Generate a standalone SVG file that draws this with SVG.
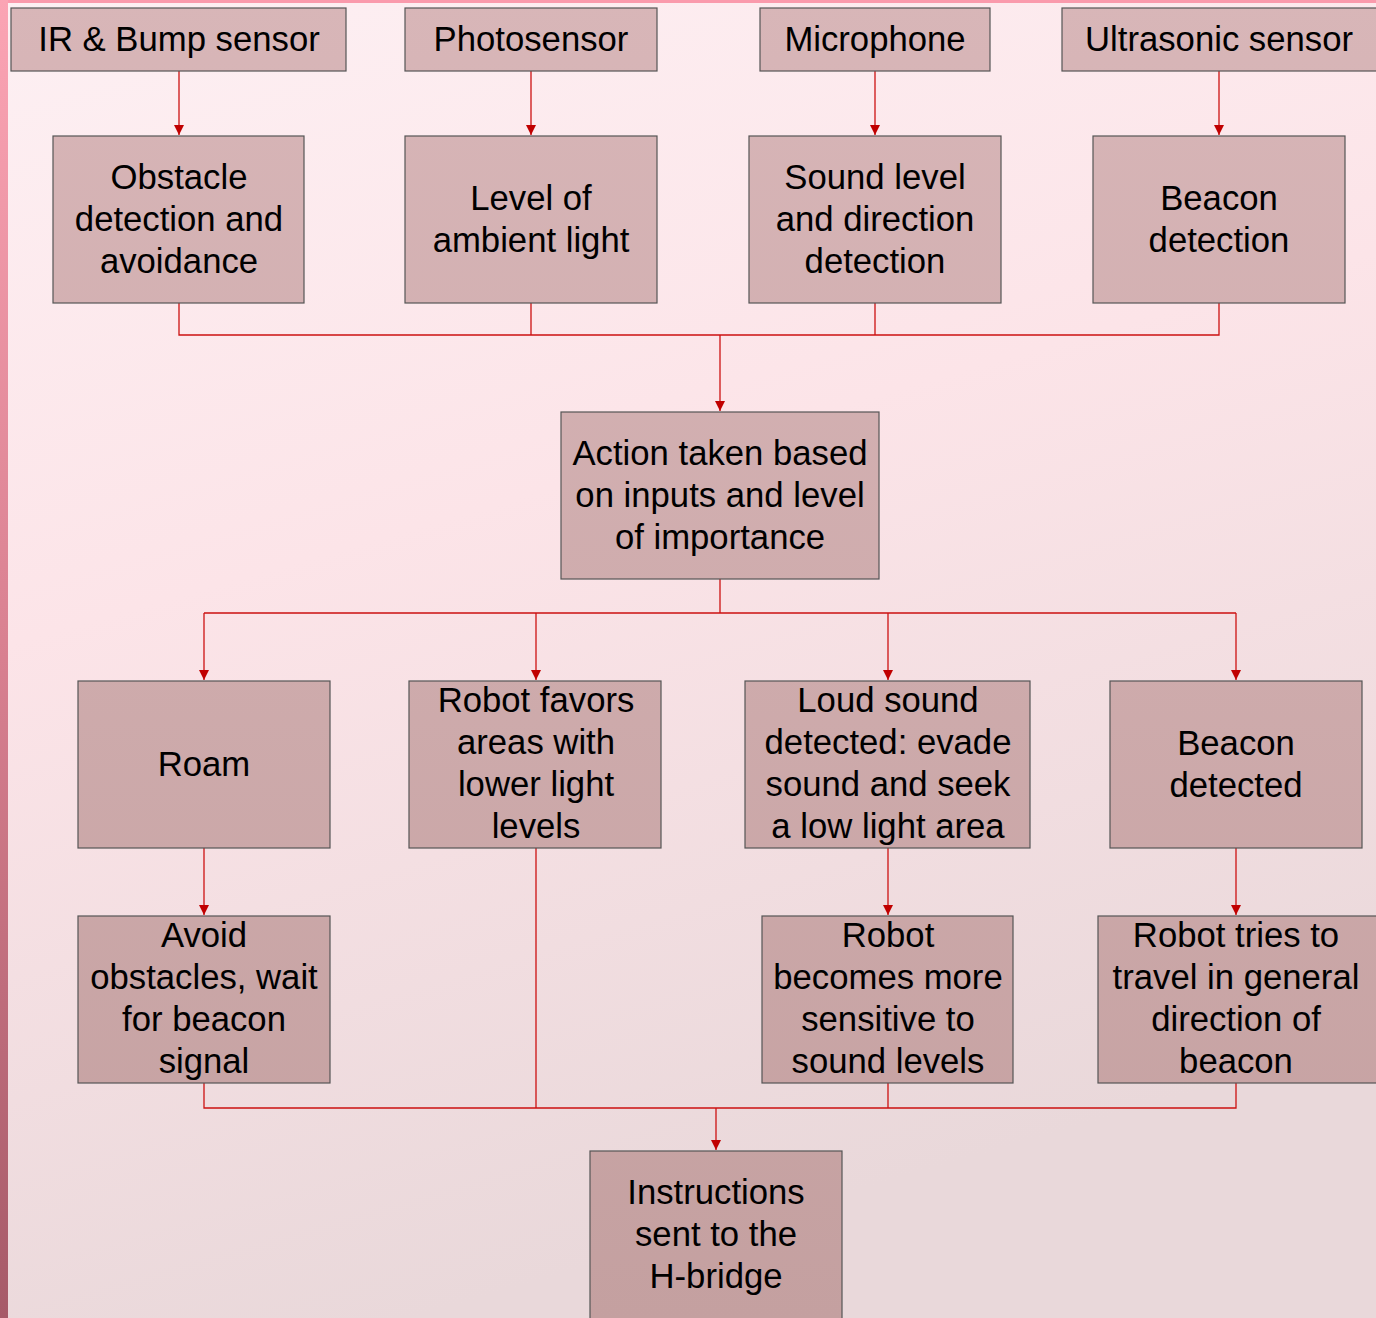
<svg xmlns="http://www.w3.org/2000/svg" width="1376" height="1318" viewBox="0 0 1376 1318">
<defs>
<linearGradient id="bg" x1="0" y1="0" x2="0.3" y2="1">
<stop offset="0" stop-color="#fdf0f3"/>
<stop offset="0.45" stop-color="#fce4e8"/>
<stop offset="1" stop-color="#e9d8da"/>
</linearGradient>
<linearGradient id="edge" x1="0" y1="0" x2="0" y2="1">
<stop offset="0" stop-color="#fba4b4"/>
<stop offset="0.5" stop-color="#d88090"/>
<stop offset="1" stop-color="#a65a68"/>
</linearGradient>
<linearGradient id="box" gradientUnits="userSpaceOnUse" x1="0" y1="0" x2="0" y2="1318">
<stop offset="0" stop-color="#d8b6b8"/>
<stop offset="1" stop-color="#c4a0a0"/>
</linearGradient>
<marker id="ah" viewBox="0 0 10 10" refX="10" refY="5" markerWidth="10" markerHeight="10" markerUnits="userSpaceOnUse" orient="auto">
<path d="M0,0 L10,5 L0,10 z" fill="#c00000"/>
</marker>
<style>
.b{fill:url(#box);stroke:#555;stroke-width:1.2}
.t{font-family:"Liberation Sans",Arial,sans-serif;font-size:34.7px;fill:#000;text-anchor:middle}
.c{fill:none;stroke:#cc1111;stroke-width:1.3}
</style>
</defs>
<rect width="1376" height="1318" fill="url(#bg)"/>
<rect x="0" y="0" width="1376" height="3" fill="#fa9aac"/>
<rect x="0" y="0" width="8" height="1318" fill="url(#edge)"/>

<g id="connectors">
<path class="c" d="M179,71V135" marker-end="url(#ah)"/>
<path class="c" d="M531,71V135" marker-end="url(#ah)"/>
<path class="c" d="M875,71V135" marker-end="url(#ah)"/>
<path class="c" d="M1219,71V135" marker-end="url(#ah)"/>
<path class="c" d="M179,303V335H1219V303M531,303V335M875,303V335"/>
<path class="c" d="M720,335V411" marker-end="url(#ah)"/>
<path class="c" d="M720,579V613M204,613H1236"/>
<path class="c" d="M204,613V680" marker-end="url(#ah)"/>
<path class="c" d="M536,613V680" marker-end="url(#ah)"/>
<path class="c" d="M888,613V680" marker-end="url(#ah)"/>
<path class="c" d="M1236,613V680" marker-end="url(#ah)"/>
<path class="c" d="M204,848V915" marker-end="url(#ah)"/>
<path class="c" d="M888,848V915" marker-end="url(#ah)"/>
<path class="c" d="M1236,848V915" marker-end="url(#ah)"/>
<path class="c" d="M536,848V1108M204,1083V1108H1236V1083M888,1083V1108"/>
<path class="c" d="M716,1108V1150" marker-end="url(#ah)"/>
</g>

<g id="n-ir"><rect class="b" x="11" y="8" width="335" height="63"/><text class="t" x="179" y="51">IR &amp; Bump sensor</text></g>
<g id="n-photo"><rect class="b" x="405" y="8" width="252" height="63"/><text class="t" x="531" y="51">Photosensor</text></g>
<g id="n-mic"><rect class="b" x="760" y="8" width="230" height="63"/><text class="t" x="875" y="51">Microphone</text></g>
<g id="n-ultra"><rect class="b" x="1062" y="8" width="320" height="63"/><text class="t" x="1219" y="51">Ultrasonic sensor</text></g>

<g id="n-obstacle"><rect class="b" x="53" y="136" width="251" height="167"/><text class="t" x="179" y="189">Obstacle</text><text class="t" x="179" y="231">detection and</text><text class="t" x="179" y="273">avoidance</text></g>
<g id="n-ambient"><rect class="b" x="405" y="136" width="252" height="167"/><text class="t" x="531" y="210">Level of</text><text class="t" x="531" y="252">ambient light</text></g>
<g id="n-sound"><rect class="b" x="749" y="136" width="252" height="167"/><text class="t" x="875" y="189">Sound level</text><text class="t" x="875" y="231">and direction</text><text class="t" x="875" y="273">detection</text></g>
<g id="n-beacon"><rect class="b" x="1093" y="136" width="252" height="167"/><text class="t" x="1219" y="210">Beacon</text><text class="t" x="1219" y="252">detection</text></g>

<g id="n-action"><rect class="b" x="561" y="412" width="318" height="167"/><text class="t" x="720" y="465">Action taken based</text><text class="t" x="720" y="507">on inputs and level</text><text class="t" x="720" y="549">of importance</text></g>

<g id="n-roam"><rect class="b" x="78" y="681" width="252" height="167"/><text class="t" x="204" y="776">Roam</text></g>
<g id="n-light"><rect class="b" x="409" y="681" width="252" height="167"/><text class="t" x="536" y="712">Robot favors</text><text class="t" x="536" y="754">areas with</text><text class="t" x="536" y="796">lower light</text><text class="t" x="536" y="838">levels</text></g>
<g id="n-loud"><rect class="b" x="745" y="681" width="285" height="167"/><text class="t" x="888" y="712">Loud sound</text><text class="t" x="888" y="754">detected: evade</text><text class="t" x="888" y="796">sound and seek</text><text class="t" x="888" y="838">a low light area</text></g>
<g id="n-bdet"><rect class="b" x="1110" y="681" width="252" height="167"/><text class="t" x="1236" y="755">Beacon</text><text class="t" x="1236" y="797">detected</text></g>

<g id="n-avoid"><rect class="b" x="78" y="916" width="252" height="167"/><text class="t" x="204" y="947">Avoid</text><text class="t" x="204" y="989">obstacles, wait</text><text class="t" x="204" y="1031">for beacon</text><text class="t" x="204" y="1073">signal</text></g>
<g id="n-sens"><rect class="b" x="762" y="916" width="251" height="167"/><text class="t" x="888" y="947">Robot</text><text class="t" x="888" y="989">becomes more</text><text class="t" x="888" y="1031">sensitive to</text><text class="t" x="888" y="1073">sound levels</text></g>
<g id="n-travel"><rect class="b" x="1098" y="916" width="290" height="167"/><text class="t" x="1236" y="947">Robot tries to</text><text class="t" x="1236" y="989">travel in general</text><text class="t" x="1236" y="1031">direction of</text><text class="t" x="1236" y="1073">beacon</text></g>

<g id="n-instr"><rect class="b" x="590" y="1151" width="252" height="180"/><text class="t" x="716" y="1204">Instructions</text><text class="t" x="716" y="1246">sent to the</text><text class="t" x="716" y="1288">H-bridge</text></g>
</svg>
